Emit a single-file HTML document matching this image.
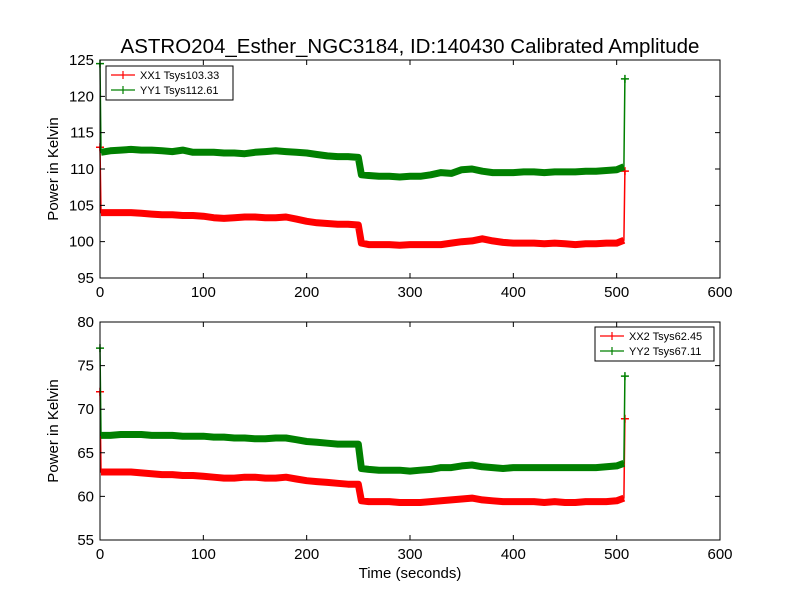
<!DOCTYPE html>
<html><head><meta charset="utf-8"><style>
body{margin:0;background:#fff}
svg{display:block;font-family:"Liberation Sans","DejaVu Sans",sans-serif}
</style></head><body>
<svg id="c" width="800" height="600"></svg>
<script>
const times=[0,1,10,20,30,40,50,60,70,80,90,100,110,120,130,140,150,160,170,180,190,200,210,220,230,240,250,253,260,270,280,290,300,310,320,330,340,350,360,370,380,390,400,410,420,430,440,450,460,470,480,490,500,507,508];
const xx1=[113,104,104,104,104,103.9,103.8,103.7,103.7,103.6,103.6,103.5,103.3,103.2,103.3,103.4,103.4,103.3,103.3,103.4,103.1,102.8,102.6,102.5,102.4,102.4,102.3,99.8,99.6,99.6,99.6,99.5,99.6,99.6,99.6,99.6,99.8,100,100.1,100.4,100.1,99.9,99.8,99.8,99.8,99.7,99.8,99.7,99.6,99.7,99.7,99.8,99.8,100.2,109.7];
const yy1=[124.5,112.3,112.5,112.6,112.7,112.6,112.6,112.5,112.4,112.6,112.3,112.3,112.3,112.2,112.2,112.1,112.3,112.4,112.5,112.4,112.3,112.2,112.0,111.8,111.7,111.7,111.6,109.2,109.1,109.0,109.0,108.9,109.0,109.0,109.2,109.5,109.4,109.9,110.0,109.7,109.5,109.5,109.5,109.6,109.6,109.5,109.6,109.6,109.6,109.7,109.7,109.8,109.9,110.3,122.4];
const xx2=[72,62.8,62.8,62.8,62.8,62.7,62.6,62.5,62.5,62.4,62.4,62.3,62.2,62.1,62.1,62.2,62.2,62.1,62.1,62.2,62.0,61.8,61.7,61.6,61.5,61.4,61.4,59.5,59.4,59.4,59.4,59.3,59.3,59.3,59.4,59.5,59.6,59.7,59.8,59.6,59.5,59.4,59.4,59.4,59.4,59.3,59.4,59.3,59.3,59.4,59.4,59.4,59.5,59.8,68.9];
const yy2=[77,67.0,67.0,67.1,67.1,67.1,67.0,67.0,67.0,66.9,66.9,66.9,66.8,66.8,66.7,66.7,66.6,66.6,66.7,66.7,66.5,66.3,66.2,66.1,66.0,66.0,66.0,63.2,63.1,63.0,63.0,63.0,62.9,63.0,63.1,63.3,63.3,63.5,63.6,63.4,63.3,63.2,63.3,63.3,63.3,63.3,63.3,63.3,63.3,63.3,63.3,63.4,63.5,63.8,73.8];
const xTicks=[0,100,200,300,400,500,600];
const yTicksTop=[95,100,105,110,115,120,125];
const yTicksBot=[55,60,65,70,75,80];
const title="ASTRO204_Esther_NGC3184, ID:140430 Calibrated Amplitude";

const NS="http://www.w3.org/2000/svg",svg=document.getElementById('c');
function el(t,a,p){const e=document.createElementNS(NS,t);for(const k in a)e.setAttribute(k,a[k]);(p||svg).appendChild(e);return e;}
function panel(top,bottom,ymin,ymax,yTicks,series,legend,name){
  const L=100,R=720;
  const g=el('g',{});
  
  
  const X=t=>L+(t-0)/(600-0)*(R-L);
  const Y=v=>bottom-(v-ymin)/(ymax-ymin)*(bottom-top);
  series.forEach(s=>{
    const pts=times.map((t,i)=>X(t).toFixed(1)+','+Y(s.v[i]).toFixed(1));
    const sg=el('g',{},g);
    
    
    el('polyline',{points:pts.join(' '),fill:'none',stroke:s.c,'stroke-width':1.5},sg);
    el('polyline',{points:pts.slice(1,-1).join(' '),fill:'none',stroke:s.c,'stroke-width':7,'stroke-linejoin':'round'},sg);
    [0,times.length-1].forEach(i=>{const x=X(times[i]),y=Y(s.v[i]);
      el('path',{d:`M${x-4},${y}H${x+4}M${x},${y-4}V${y+4}`,stroke:s.c,'stroke-width':1.5},sg);});
  });
  el('rect',{x:L,y:top,width:R-L,height:bottom-top,fill:'none',stroke:'#000','stroke-width':1},g);
  xTicks.forEach(t=>{const x=X(t);
    el('path',{d:`M${x},${bottom}v-5M${x},${top}v5`,stroke:'#000'},g);
    const tx=el('text',{x:x,y:bottom+19,'text-anchor':'middle','font-size':15},g);tx.textContent=t;
    
    
  });
  yTicks.forEach(v=>{const y=Y(v);
    el('path',{d:`M${L},${y}h5M${R},${y}h-5`,stroke:'#000'},g);
    const tx=el('text',{x:L-6,y:y+5,'text-anchor':'end','font-size':15},g);tx.textContent=v;
    
    
  });
  const yl=el('text',{x:0,y:0,'font-size':15,'text-anchor':'middle',transform:`translate(58,${(top+bottom)/2}) rotate(-90)`},g);
  yl.textContent='Power in Kelvin';
  
  
  const lg=el('g',{},g);
  
  
  el('rect',{x:legend.x,y:legend.y,width:legend.w,height:34,fill:'#fff',stroke:'#000'},lg);
  series.forEach((s,i)=>{const y=legend.y+9+i*15,x=legend.x+5;
    el('path',{d:`M${x},${y}h24M${x+12},${y-4}v8`,stroke:s.c,'stroke-width':1.2},lg);
    const t=el('text',{x:x+29,y:y+4,'font-size':11},lg);t.textContent=s.label;
    
    
  });
}
panel(60,278,95,125,yTicksTop,[{v:xx1,c:'#ff0000',label:'XX1 Tsys103.33',name:'series-xx1'},{v:yy1,c:'#008000',label:'YY1 Tsys112.61',name:'series-yy1'}],{x:106,y:66,w:127},'top-panel');
panel(322,540,55,80,yTicksBot,[{v:xx2,c:'#ff0000',label:'XX2 Tsys62.45',name:'series-xx2'},{v:yy2,c:'#008000',label:'YY2 Tsys67.11',name:'series-yy2'}],{x:595,y:327,w:119},'bottom-panel');
const tt=el('text',{x:410,y:53,'text-anchor':'middle','font-size':20.5});tt.textContent=title;


const xl=el('text',{x:410,y:578,'text-anchor':'middle','font-size':15});xl.textContent='Time (seconds)';


</script>
</body></html>
